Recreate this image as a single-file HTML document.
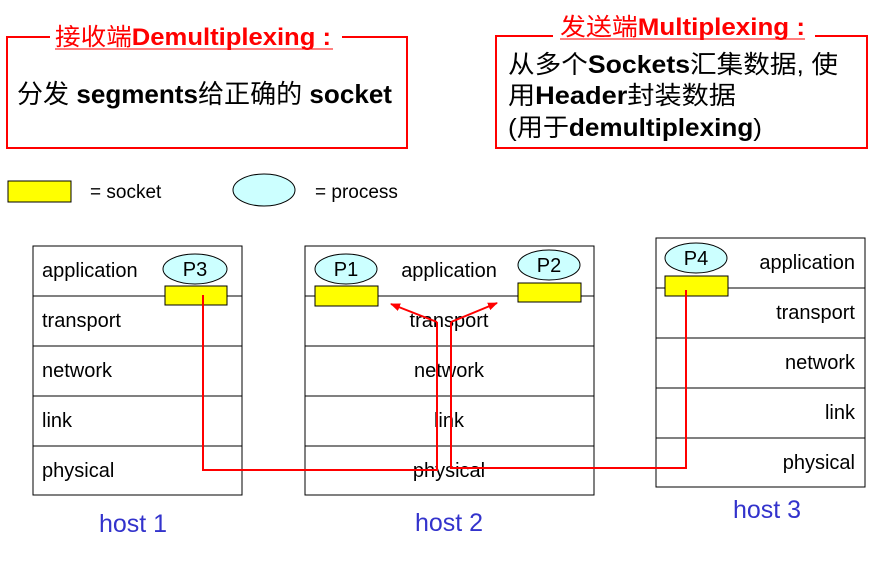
<!DOCTYPE html>
<html><head><meta charset="utf-8"><style>
body{margin:0;background:#fff;}
text{font-family:"Liberation Sans","Noto Sans CJK SC",sans-serif;}
</style></head><body>
<svg width="876" height="557" xmlns="http://www.w3.org/2000/svg">
<defs><marker id="a" markerWidth="10" markerHeight="8" refX="9" refY="4" orient="auto" markerUnits="userSpaceOnUse"><path d="M0,0 L10,4 L0,8 z" fill="#f00"/></marker></defs>
<rect width="876" height="557" fill="#fff"/>
<path d="M50,37 H7 V148 H407 V37 H342" fill="none" stroke="#f00" stroke-width="2"/>
<text x="55" y="45" font-size="24" fill="#f00" textLength="276" lengthAdjust="spacingAndGlyphs">接收端<tspan font-weight="bold">Demultiplexing :</tspan></text>
<line x1="55" y1="49" x2="333" y2="49" stroke="#f00" stroke-width="1"/>
<text x="17" y="103" font-size="26" fill="#000" textLength="375" lengthAdjust="spacingAndGlyphs">分发 <tspan font-weight="bold">segments</tspan>给正确的 <tspan font-weight="bold">socket</tspan></text>
<path d="M553,36 H496 V148 H867 V36 H815" fill="none" stroke="#f00" stroke-width="2"/>
<text x="560" y="35" font-size="24" fill="#f00" textLength="245" lengthAdjust="spacingAndGlyphs">发送端<tspan font-weight="bold">Multiplexing :</tspan></text>
<line x1="560" y1="39" x2="805" y2="39" stroke="#f00" stroke-width="1"/>
<text x="508" y="73" font-size="25" textLength="330" lengthAdjust="spacingAndGlyphs">从多个<tspan font-weight="bold">Sockets</tspan>汇集数据, 使</text>
<text x="508" y="104" font-size="25" textLength="228" lengthAdjust="spacingAndGlyphs">用<tspan font-weight="bold">Header</tspan>封装数据</text>
<text x="508" y="136" font-size="25" textLength="254" lengthAdjust="spacingAndGlyphs">(用于<tspan font-weight="bold">demultiplexing</tspan>)</text>
<rect x="8" y="181" width="63" height="21" fill="#ff0" stroke="#000"/>
<text x="90" y="198" font-size="19">= socket</text>
<ellipse cx="264" cy="190" rx="31" ry="16" fill="#ccffff" stroke="#000"/>
<text x="315" y="198" font-size="19">= process</text>
<g stroke="#000" fill="none">
<rect x="33" y="246" width="209" height="249"/>
<line x1="33" y1="296" x2="242" y2="296"/><line x1="33" y1="346" x2="242" y2="346"/><line x1="33" y1="396" x2="242" y2="396"/><line x1="33" y1="446" x2="242" y2="446"/>
<rect x="305" y="246" width="289" height="249"/>
<line x1="305" y1="296" x2="594" y2="296"/><line x1="305" y1="346" x2="594" y2="346"/><line x1="305" y1="396" x2="594" y2="396"/><line x1="305" y1="446" x2="594" y2="446"/>
<rect x="656" y="238" width="209" height="249"/>
<line x1="656" y1="288" x2="865" y2="288"/><line x1="656" y1="338" x2="865" y2="338"/><line x1="656" y1="388" x2="865" y2="388"/><line x1="656" y1="438" x2="865" y2="438"/>
</g>
<g font-size="20">
<text x="42" y="277">application</text><text x="42" y="327">transport</text><text x="42" y="377">network</text><text x="42" y="427">link</text><text x="42" y="477">physical</text>
<g text-anchor="middle"><text x="449" y="277">application</text><text x="449" y="327">transport</text><text x="449" y="377">network</text><text x="449" y="427">link</text><text x="449" y="477">physical</text></g>
<g text-anchor="end"><text x="855" y="269">application</text><text x="855" y="319">transport</text><text x="855" y="369">network</text><text x="855" y="419">link</text><text x="855" y="469">physical</text></g>
</g>
<g stroke="#000">
<ellipse cx="195" cy="269" rx="32" ry="15" fill="#ccffff"/><rect x="165" y="286" width="62" height="19" fill="#ff0"/>
<ellipse cx="346" cy="269" rx="31" ry="15" fill="#ccffff"/><rect x="315" y="286" width="63" height="20" fill="#ff0"/>
<ellipse cx="549" cy="265" rx="31" ry="15" fill="#ccffff"/><rect x="518" y="283" width="63" height="19" fill="#ff0"/>
<ellipse cx="696" cy="258" rx="31" ry="15" fill="#ccffff"/><rect x="665" y="276" width="63" height="20" fill="#ff0"/>
</g>
<g font-size="20" text-anchor="middle"><text x="195" y="276">P3</text><text x="346" y="276">P1</text><text x="549" y="272">P2</text><text x="696" y="265">P4</text></g>
<g stroke="#f00" stroke-width="2" fill="none">
<polyline points="203,295 203,470 437,470 437,322"/>
<line x1="437" y1="322" x2="391" y2="304" marker-end="url(#a)"/>
<polyline points="686,290 686,468 451,468 451,322"/>
<line x1="451" y1="322" x2="497" y2="303" marker-end="url(#a)"/>
</g>
<g font-size="25" fill="#3333cc" text-anchor="middle"><text x="133" y="532">host 1</text><text x="449" y="531">host 2</text><text x="767" y="518">host 3</text></g>
</svg>
</body></html>
